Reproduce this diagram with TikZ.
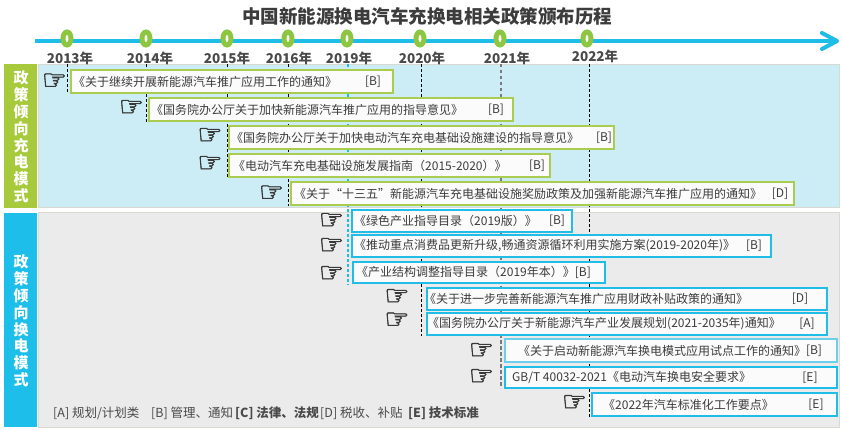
\documentclass[tikz,border=0pt]{standalone}
\usepackage{fontspec}
\setmainfont{Noto Sans CJK SC}
\newfontfamily\handfont[FakeBold=2]{DejaVu Sans}
\usetikzlibrary{calc,shapes.geometric}
\definecolor{tlblue}{HTML}{1DBDE8}
\definecolor{cgreen}{HTML}{8DC641}
\definecolor{taggreen}{HTML}{A6CA3B}
\definecolor{tagblue}{HTML}{1DBFEA}
\definecolor{panelblue}{HTML}{CDEDF6}
\definecolor{panelgray}{HTML}{EBEBEB}
\definecolor{panelline}{HTML}{D9D9CF}
\definecolor{gborder}{HTML}{ABCD4F}
\definecolor{cborder}{HTML}{22BDE6}
\definecolor{lborder}{HTML}{6CCFEC}
\definecolor{txtgray}{HTML}{3C3C3C}
\definecolor{yeargray}{HTML}{4A4A4A}
\definecolor{boxfill}{HTML}{FBFBFB}
\definecolor{handgray}{HTML}{383838}
\definecolor{dashgray}{HTML}{7A7A7A}
\newcommand{\polbox}[6]{\node[#2, minimum width={(#5-#3)*1pt}, minimum height={(#6-#4)*1pt}] (#1) at (#3,#4) {};}
\tikzset{
  basebox/.style={fill=boxfill, inner sep=0pt, outer sep=0pt, anchor=north west},
  gbox/.style={basebox, draw=gborder, line width=1.6pt},
  cbox/.style={basebox, draw=cborder, line width=1.6pt},
  ctbox/.style={basebox, draw=cborder, line width=2.6pt},
  clbox/.style={basebox, draw=lborder, line width=1.2pt},
  ptxt/.style={font=\fontsize{12}{14}\selectfont, text=txtgray, inner sep=0pt, anchor=west},
  plab/.style={font=\fontsize{12}{14}\selectfont, text=txtgray, inner sep=0pt},
  hand/.style={font=\handfont\fontsize{28}{28}\selectfont, text=handgray, inner sep=0pt, text height=15pt, text depth=0pt},
  yr/.style={font=\bfseries\fontsize{13.5}{15}\selectfont, text=yeargray, inner sep=0pt},
  ring/.style={ellipse, draw=cgreen, line width=5pt, fill=white, minimum width=8pt, minimum height=13pt, inner sep=0pt},
  tline/.style={draw=tlblue, line width=4pt},
  dline/.style={draw=black, line width=0.9pt, dash pattern=on 3pt off 2pt},
  dcyan/.style={draw=tlblue, line width=1.2pt, dash pattern=on 3pt off 2pt},
  dgray/.style={draw=dashgray, line width=1.4pt, dash pattern=on 3.5pt off 2.5pt},
  panel/.style={draw=panelline, line width=0.8pt, inner sep=0pt, anchor=north west},
  tag/.style={inner sep=0pt, anchor=north west},
  tagtxt/.style={font=\bfseries\fontsize{15}{16.8}\selectfont, text=white, align=center, inner sep=0pt},
  legtxt/.style={font=\fontsize{12.5}{14}\selectfont, text=yeargray, inner sep=0pt, anchor=west},
}
\begin{document}
\begin{tikzpicture}[x=1pt,y=-1pt]
\useasboundingbox (0,0) rectangle (842,430);
\fill[white] (0,0) rectangle (842,430);

% title
\node[font=\bfseries\fontsize{18.5}{20}\selectfont, text=txtgray, inner sep=0pt] (title) at (427,16) {中国新能源换电汽车充换电相关政策颁布历程};

% panels and tags
\node[panel, fill=panelblue, minimum width=801pt, minimum height=143pt] (ptop) at (38,64) {};
\node[panel, fill=panelgray, minimum width=801pt, minimum height=215pt] (pbot) at (38,212) {};
\node[tag, fill=taggreen, minimum width=33pt, minimum height=144pt] (tagc) at (4,64) {};
\node[tag, fill=tagblue, minimum width=33pt, minimum height=214pt] (tagb) at (4,213) {};
\node[tagtxt] (tagctxt) at (21,137) {政\\策\\倾\\向\\充\\电\\模\\式};
\node[tagtxt] (tagbtxt) at (21,321) {政\\策\\倾\\向\\换\\电\\模\\式};

% timeline
\coordinate (tls) at (35,41);
\coordinate (tle) at (837,41);
\coordinate (tlu) at (822,33);
\coordinate (tld) at (822,49);
\draw[tline] (tls) -- (tle);
\draw[tline, line cap=round, line join=round] (tlu) -- (tle) -- (tld);

\foreach \n/\x in {2013/67, 2014/146, 2015/227, 2016/288, 2019/347, 2020/420, 2021/500, 2022/587}
  \node[ring] (c\n) at (\x,38.5) {};
\foreach \n/\x in {2013/70, 2014/150, 2015/227, 2016/289, 2019/349, 2020/422, 2021/507}
  \node[yr] (y\n) at (\x,58) {{\n}年};
\node[yr] (y2022) at (595,56) {2022年};

% dashed guides
\foreach \n/\x/\e in {2013/67/93, 2014/146/122, 2015/227/177, 2016/288/206, 2020/421/336, 2022/589/417}{
  \coordinate (da\n) at (\x,64);
  \coordinate (db\n) at (\x,\e);
  \draw[dline] (da\n) -- (db\n);
}
\coordinate (da2019) at (348,64); \coordinate (db2019) at (348,285);
\draw[dcyan] (da2019) -- (db2019);
\coordinate (da2021) at (501,64); \coordinate (db2021) at (501,388);
\draw[dgray] (da2021) -- (db2021);

% boxes
\polbox{b1}{gbox}{71}{70}{393}{93}
\polbox{b2}{gbox}{149}{98}{513}{121}
\polbox{b3}{gbox}{229}{126}{614}{149}
\polbox{b4}{gbox}{229}{154}{550}{177}
\polbox{b5}{gbox}{291}{182}{794}{205}
\polbox{b6}{cbox}{352}{210}{572}{232}
\polbox{b7}{cbox}{352}{235}{771}{257}
\polbox{b8}{ctbox}{353}{262}{605}{283}
\polbox{b9}{cbox}{427}{288}{827}{310}
\polbox{b10}{cbox}{427}{313}{827}{335}
\polbox{b11}{clbox}{505}{339}{837}{362}
\polbox{b12}{ctbox}{505}{367}{837}{388}
\polbox{b13}{ctbox}{592}{393}{837}{416}

% texts
\node[ptxt] (t1) at (73,81.5) {《关于继续开展新能源汽车推广应用工作的通知》};
\node[plab] (l1) at (373,81.5) {[B]};
\node[ptxt] (t2) at (151,109.5) {《国务院办公厅关于加快新能源汽车推广应用的指导意见》};
\node[plab] (l2) at (496,109.5) {[B]};
\node[ptxt] (t3) at (231,137.5) {《国务院办公厅关于加快电动汽车充电基础设施建设的指导意见》};
\node[plab] (l3) at (604,137.5) {[B]};
\node[ptxt] (t4) at (233,165.5) {《电动汽车充电基础设施发展指南（2015-2020）》};
\node[plab] (l4) at (537,165.5) {[B]};
\node[ptxt] (t5) at (294,193.5) {《关于“十三五”新能源汽车充电基础设施奖励政策及加强新能源汽车推广应用的通知》};
\node[plab] (l5) at (780,193.5) {[D]};
\node[ptxt] (t6) at (354,221) {《绿色产业指导目录（2019版）》};
\node[plab] (l6) at (557,221) {[B]};
\node[ptxt] (t7) at (354,246) {《推动重点消费品更新升级,畅通资源循环利用实施方案(2019-2020年)》};
\node[plab] (l7) at (754,246) {[B]};
\node[ptxt] (t8) at (356,272.5) {《产业结构调整指导目录（2019年本）》[B]};
\node[ptxt] (t9) at (424,299) {《关于进一步完善新能源汽车推广应用财政补贴政策的通知》};
\node[plab] (l9) at (800,299) {[D]};
\node[ptxt] (t10) at (427,324) {《国务院办公厅关于新能源汽车产业发展规划(2021-2035年)通知》};
\node[plab] (l10) at (807,324) {[A]};
\node[ptxt] (t11) at (518,350.5) {《关于启动新能源汽车换电模式应用试点工作的通知》};
\node[plab] (l11) at (814,350.5) {[B]};
\node[ptxt] (t12) at (512,377.5) {GB/T 40032-2021《电动汽车换电安全要求》};
\node[plab] (l12) at (810,377.5) {[E]};
\node[ptxt] (t13) at (603,404.5) {《2022年汽车标准化工作要点》};
\node[plab] (l13) at (816,404.5) {[E]};

% hands
\foreach \i/\x/\y in {1/54.5/80.5, 2/131.5/107, 3/210/135, 4/210/163, 5/271.5/192.5, 6/331.5/220, 7/331.5/245, 8/331.5/273, 9/397/296, 10/397/319.5, 11/481.5/350, 12/481.5/376, 13/574.5/402}
  \node[hand] (h\i) at (\x,\y+1.5) {☞};

% legend
\node[legtxt] (lgA) at (53,413) {[A] 规划/计划类};
\node[legtxt] (lgB) at (151,413) {[B] 管理、通知};
\node[legtxt] (lgC) at (235,413) {\bfseries [C] 法律、法规};
\node[legtxt] (lgD) at (320,413) {[D] 税收、补贴};
\node[legtxt] (lgE) at (408,413) {\bfseries [E] 技术标准};
\end{tikzpicture}
\end{document}
